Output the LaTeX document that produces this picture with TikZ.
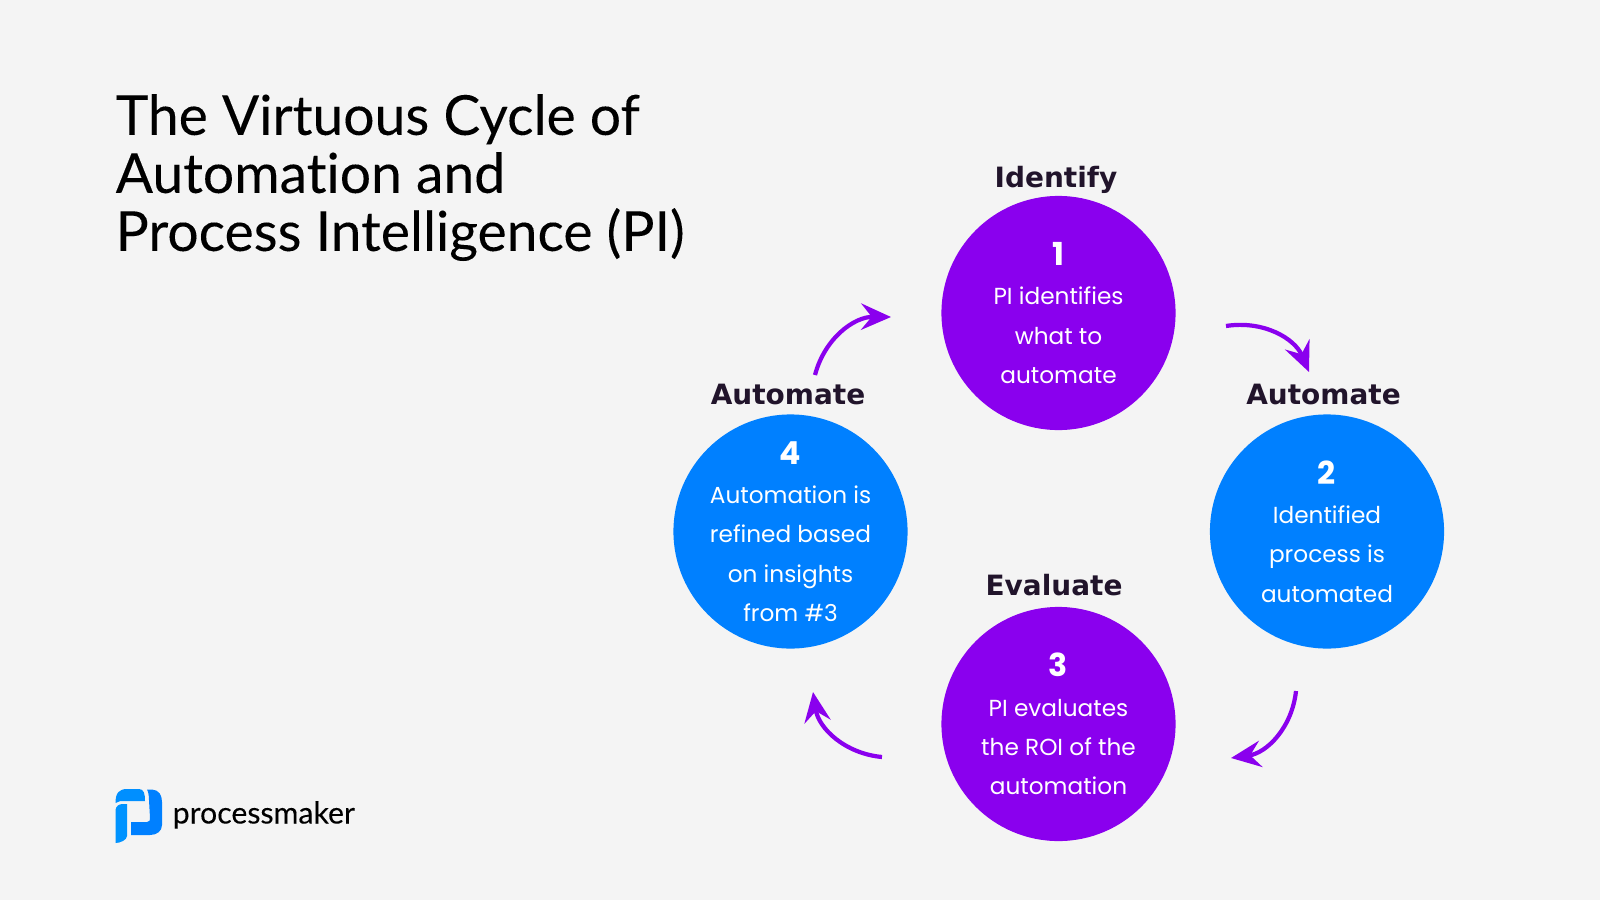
\documentclass[tikz,border=0pt]{standalone}
\usepackage{fontspec}
\setmainfont{Lato}
\newfontfamily\labelfont{DejaVu Sans}
\newfontfamily\stagefont{Poppins}
\usetikzlibrary{arrows.meta}
\definecolor{pagebg}{HTML}{F4F4F4}
\definecolor{cyclepurple}{HTML}{8A00EE}
\definecolor{cycleblue}{HTML}{0080FF}
\definecolor{labelink}{HTML}{21142B}
\tikzset{
	stage/.style = {circle, minimum size=2.34cm, inner sep=-8pt, text=white, align=center,
		font=\stagefont\fontsize{6.6}{11.2}\selectfont},
	stagename/.style = {anchor=base, text=labelink, font=\labelfont\fontsize{7.95}{10}\selectfont\bfseries},
	cyclearrow/.style = {cyclepurple, line width=1.2pt,
		-{Stealth[length=8.5pt, width=7.5pt, inset=3pt]}},
}
\newcommand{\stagenum}[1]{{\fontsize{9}{11.2}\selectfont\bfseries #1}}
\begin{document}
\begin{tikzpicture}[x=0.01cm, y=-0.01cm]
	\fill[pagebg] (0,0) rectangle (1600,900);
	\useasboundingbox (0,0) rectangle (1600,900);

	% title
	\node (title) [anchor=north west, inner sep=0, align=left, text=black,
		font=\addfontfeature{Ligatures=NoCommon,FakeBold=0.1}\fontsize{15.7}{16.5}\selectfont] at (115,93.5)
		{The Virtuous Cycle of\\Automation and\\Process Intelligence (PI)};

	% stages
	\node (one) [stage, fill=cyclepurple] at (1058.5,313)
		{\stagenum{1}\\PI identifies\\what to\\automate};
	\node (two) [stage, fill=cycleblue] at (1327,531.5)
		{\stagenum{2}\\Identified\\process is\\automated};
	\node (three) [stage, fill=cyclepurple] at (1058.5,724)
		{\stagenum{3}\\PI evaluates\\the ROI of the\\automation};
	\node (four) [stage, fill=cycleblue] at (790.5,531.5)
		{\stagenum{4}\\Automation is\\refined based\\on insights\\from \#3};

	\node (nameone) [stagename] at (1056,187) {Identify};
	\node (nametwo) [stagename] at (1323.5,404) {Automate};
	\node (namethree) [stagename] at (1054,595) {Evaluate};
	\node (namefour) [stagename] at (788,404) {Automate};

	% arrows between the stages
	\coordinate (a12s) at (1226,326);
	\coordinate (a12e) at (1309,372);
	\coordinate (a23s) at (1296,691);
	\coordinate (a23e) at (1231,758);
	\coordinate (a34s) at (882,757);
	\coordinate (a34e) at (813,692);
	\coordinate (a41s) at (815,375);
	\coordinate (a41e) at (891,317);
	\draw[cyclearrow] (a12s) to[bend left=38] (a12e);
	\draw[cyclearrow] (a23s) to[bend left=38] (a23e);
	\draw[cyclearrow] (a34s) to[bend left=38] (a34e);
	\draw[cyclearrow] (a41s) to[bend left=38] (a41e);

	% logo
	\fill[cycleblue!88!cyan] (115.5,803) .. controls (115.5,793) and (119,789) .. (127,789)
		-- (139,789) .. controls (144,789) and (145,794) .. (145,801)
		-- (126,801) .. controls (121,801) and (118,801) .. (115.5,803) -- cycle;
	\fill[cycleblue!85!cyan] (115.5,810) .. controls (116,806) and (119,804) .. (123,804)
		-- (127,804) -- (127,836) .. controls (127,840) and (120,843) .. (115.5,843) -- cycle;
	\fill[cycleblue] (147,789.5) -- (152,789.5) .. controls (159,790) and (162,795) .. (162,802)
		-- (162,825) .. controls (162,831) and (157,835) .. (150,835)
		-- (131,835) -- (131,822) -- (147,822) .. controls (150,822) and (150,820) .. (150,818)
		-- (149,800) .. controls (149,795) and (148,791) .. (147,789.5) -- cycle;
	\node (logotext) [anchor=base west, inner sep=0, text=black,
		font=\addfontfeature{FakeBold=0.1}\fontsize{8.6}{10}\selectfont] at (172,823.5) {processmaker};
\end{tikzpicture}
\end{document}
